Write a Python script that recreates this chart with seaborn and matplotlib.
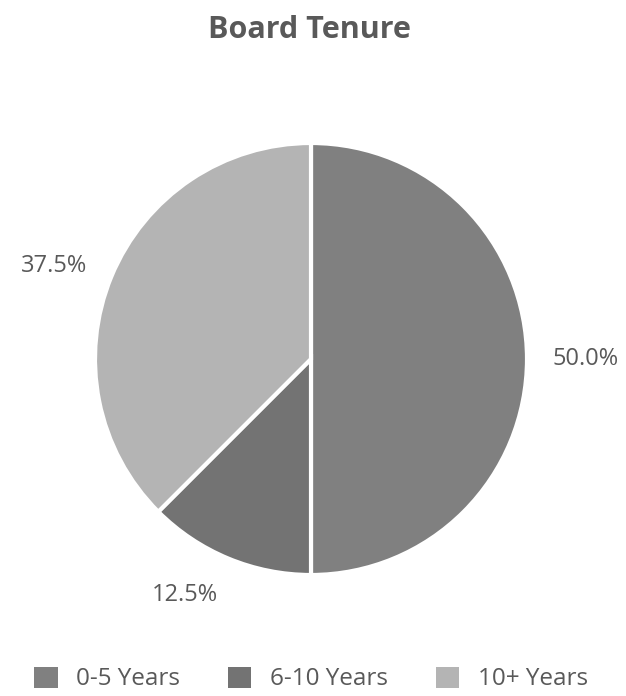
import matplotlib
matplotlib.use("Agg")
import matplotlib.pyplot as plt
import seaborn as sns
import numpy as np
from matplotlib.patches import Patch

categories = ["0-5 Years", "6-10 Years", "10+ Years"]
values = [50.0, 12.5, 37.5]
colors = ["#808080", "#737373", "#b4b4b4"]
title = "Board Tenure"

sns.set_theme(style="white")
plt.rcParams['font.family'] = ['Open Sans', 'DejaVu Sans']
txt = "#595959"

fig = plt.figure(figsize=(6.26, 6.96), dpi=100)
ax = fig.add_axes([41/626, 67/696, 540/626, 540/696])
palette = sns.color_palette(colors)
wedges, _ = ax.pie(
    values, colors=palette, startangle=90, counterclock=False,
    wedgeprops=dict(edgecolor="white", linewidth=3))
ax.set_xlim(-1.25, 1.25)
ax.set_ylim(-1.25, 1.25)
ax.set_aspect("equal")

# outside-end data labels, aligned like a spreadsheet chart
r = 1.12
for w, v in zip(wedges, values):
    th = np.deg2rad((w.theta1 + w.theta2) / 2)
    c, s = np.cos(th), np.sin(th)
    ha = "left" if c > 0.1 else ("right" if c < -0.1 else "center")
    va = "center" if abs(s) < 0.7 else ("top" if s < 0 else "bottom")
    ax.text(r * c, r * s, f"{v:.1f}%", ha=ha, va=va, fontsize=17, color=txt)

fig.text(0.495, 1 - 30/696, title, ha="center", va="center",
         fontsize=22, fontweight="bold", color=txt)

handles = [Patch(facecolor=c, edgecolor="none") for c in palette]
leg = fig.legend(handles, categories, loc="center", bbox_to_anchor=(0.497, 17/696),
                 ncol=3, frameon=False, fontsize=17.5, handlelength=0.95, handleheight=0.95,
                 columnspacing=2.0, handletextpad=0.75, borderpad=0, borderaxespad=0)
for t in leg.get_texts():
    t.set_color(txt)

fig.savefig("out.png", dpi=100)
